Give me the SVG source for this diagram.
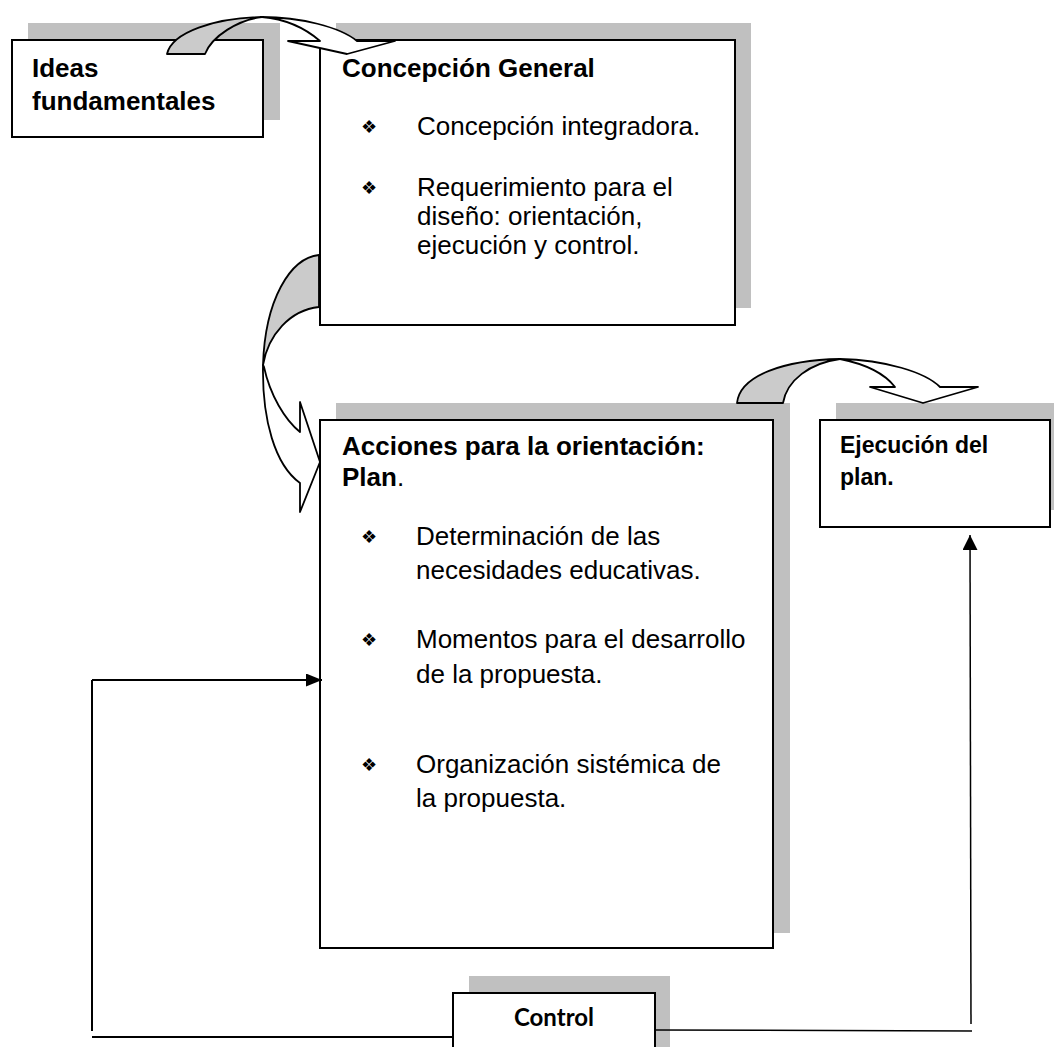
<svg xmlns="http://www.w3.org/2000/svg" width="1054" height="1047" viewBox="0 0 1054 1047">
<defs>
<style>
.box{fill:#fff;stroke:#000;stroke-width:2}
.sh{fill:#c0c0c0}
.t{font-family:"Liberation Sans",Arial,sans-serif;font-size:26px;fill:#000}
.b{font-weight:bold}
.bul{font-family:"DejaVu Sans",sans-serif;font-size:18px;fill:#000}
.ca{stroke:#000;stroke-width:1.8;stroke-linejoin:round}
.ln{stroke:#000;stroke-width:2;fill:none}
</style>
<marker id="ah" viewBox="0 0 10 10" refX="10" refY="5" markerWidth="16" markerHeight="13" orient="auto" markerUnits="userSpaceOnUse" preserveAspectRatio="none">
<path d="M0,0 L10,5 L0,10 Z" fill="#000"/>
</marker>
<marker id="ah2" viewBox="0 0 10 10" refX="10" refY="5" markerWidth="15" markerHeight="15" orient="auto" markerUnits="userSpaceOnUse" preserveAspectRatio="none">
<path d="M0,0 L10,5 L0,10 Z" fill="#000"/>
</marker>
</defs>
<rect width="1054" height="1047" fill="#fff"/>

<g id="ideas">
<rect class="sh" x="28" y="23" width="252" height="97"/>
<rect class="box" x="12" y="40" width="251" height="97"/>
<text class="t b" x="32" y="77">Ideas</text>
<text class="t b" x="32" y="110">fundamentales</text>
</g>

<g id="concepcion">
<rect class="sh" x="336" y="23" width="415" height="285"/>
<rect class="box" x="320" y="40" width="415" height="285"/>
<text class="t b" x="342" y="77">Concepción General</text>
<text class="bul" x="361" y="133">❖</text>
<text class="t" x="417" y="135">Concepción integradora.</text>
<text class="bul" x="361" y="194">❖</text>
<text class="t" x="417" y="196">Requerimiento para el</text>
<text class="t" x="417" y="225">diseño: orientación,</text>
<text class="t" x="417" y="254">ejecución y control.</text>
</g>

<g id="acciones">
<rect class="sh" x="336" y="403" width="454" height="530"/>
<rect class="box" x="320" y="420" width="453" height="528"/>
<text class="t b" x="342" y="455">Acciones para la orientación:</text>
<text class="t" x="342" y="486"><tspan class="b">Plan</tspan>.</text>
<text class="bul" x="361" y="543">❖</text>
<text class="t" x="416" y="545">Determinación de las</text>
<text class="t" x="416" y="579">necesidades educativas.</text>
<text class="bul" x="361" y="646">❖</text>
<text class="t" x="416" y="648">Momentos para el desarrollo</text>
<text class="t" x="416" y="683">de la propuesta.</text>
<text class="bul" x="361" y="771">❖</text>
<text class="t" x="416" y="773">Organización sistémica de</text>
<text class="t" x="416" y="807">la propuesta.</text>
</g>

<g id="ejecucion">
<rect class="sh" x="836" y="403" width="230" height="107"/>
<rect class="box" x="820" y="420" width="230" height="107"/>
<text class="t b" x="840" y="453" style="font-size:23px">Ejecución del</text>
<text class="t b" x="840" y="485" style="font-size:23px">plan.</text>
</g>

<g id="control">
<rect class="sh" x="469" y="976" width="201" height="80"/>
<rect class="box" x="453" y="993" width="202" height="70"/>
<text x="554" y="1026" text-anchor="middle" style="font-family:Lato,'Liberation Sans',sans-serif;font-weight:bold;font-size:24px">Control</text>
</g>

<g id="connectors">
<path class="ca" fill="#cbcbcb" d="M167,54 C172,32 215,18 262,17 C238,20 212,36 205,54 Z"/>
<path class="ca" fill="#fff" d="M262,17 C300,17 340,27 357,41 L395,41 L347,54 L288,41 L320,41 C305,28 285,19 262,17 Z"/>
<path class="ca" fill="#cbcbcb" d="M319,255 C290,258 265,300 263,365 C268,335 290,310 319,307 Z"/>
<path class="ca" fill="#fff" d="M263,365 C262,420 275,465 300,483 L300,512 L320,462 L300,402 L300,432 C285,420 270,395 264,367 Z"/>
<path class="ca" fill="#cbcbcb" d="M737,403 C740,375 785,360 840,359 C810,363 787,380 783,403 Z"/>
<path class="ca" fill="#fff" d="M840,359 C885,360 925,372 940,387 L978,387 L923,403 L870,387 L895,387 C885,374 865,364 840,359 Z"/>
<line class="ln" x1="453" y1="1037" x2="92" y2="1037"/>
<line class="ln" x1="92" y1="1031" x2="92" y2="680"/>
<line class="ln" x1="92" y1="680" x2="322" y2="680" marker-end="url(#ah)"/>
<line class="ln" x1="655" y1="1030" x2="972" y2="1031" style="stroke-width:1.5"/>
<line class="ln" x1="971" y1="1024" x2="970" y2="535" marker-end="url(#ah2)" style="stroke-width:1.5"/>
</g>
</svg>
